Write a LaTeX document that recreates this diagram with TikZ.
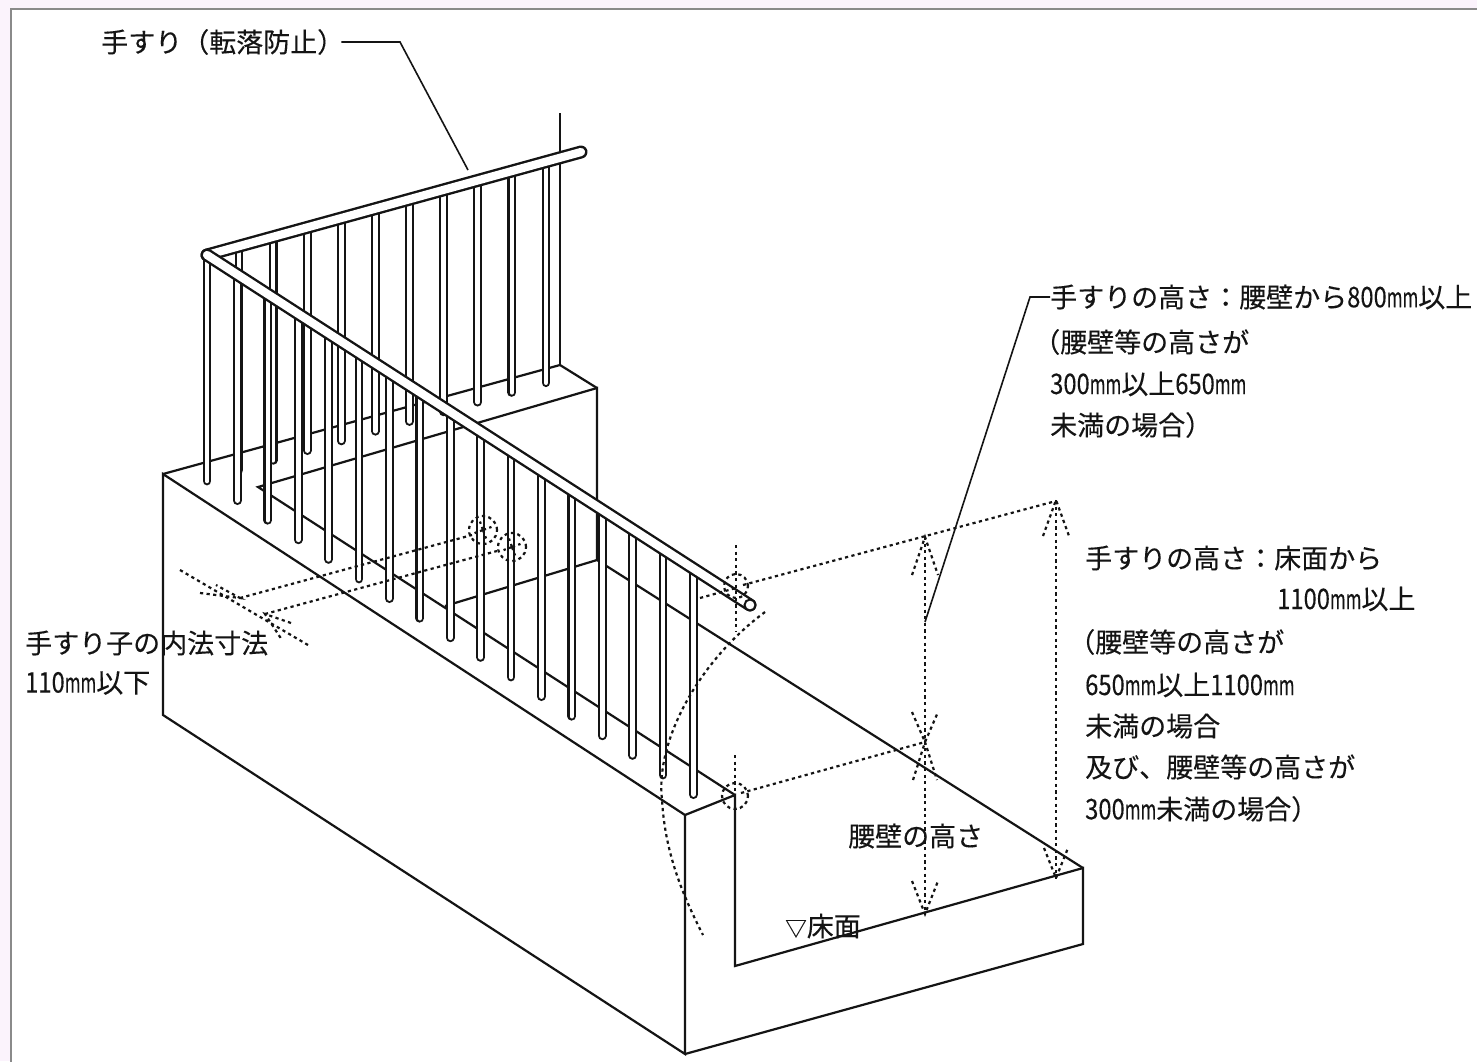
\documentclass[tikz,border=0pt]{standalone}
\usepackage{graphicx}
\usepackage{fontspec}
\setmainfont{Noto Sans CJK JP}[FakeBold=0.2]
\newcommand{\mmu}{\scalebox{.63}[1]{mm}}
\newcommand{\dg}[1]{\scalebox{.88}[1.05]{#1}}
\definecolor{pagebg}{HTML}{FBF3FC}
\definecolor{framegray}{HTML}{8A8A8A}
\definecolor{inkc}{HTML}{141414}
\tikzset{
  edgeline/.style={draw=inkc,line width=2.2pt,line join=miter},
  leaderline/.style={draw=inkc,line width=1.6pt},
  dimdot/.style={draw=inkc,line width=2.2pt,dash pattern=on 3.2pt off 3.4pt},
  railout/.style={draw=inkc,line width=13pt,line cap=round},
  railin/.style={draw=white,line width=8.2pt,line cap=round},
  balout/.style={draw=inkc,line width=8.8pt,line cap=round},
  balin/.style={draw=white,line width=4.6pt,line cap=round},
  lbl/.style={anchor=west,inner sep=0pt,text=inkc,font=\fontsize{27}{32}\selectfont}
}
\newcommand{\starmark}[2]{%
  \draw[dimdot] (#1,#2) circle (14pt);
  \foreach \a in {20,110,200,290}{\draw[dimdot] (#1,#2) -- ++(\a:9pt);}
}
\begin{document}
\begin{tikzpicture}[x=1pt,y=-1pt]
\useasboundingbox (0,0) rectangle (1477,1061);
\fill[pagebg] (0,0) rectangle (1477,1061);
\draw[framegray,line width=2.5pt,fill=white] (11,9) rectangle (1490,1075);

% wall and floor
\draw[edgeline] (163,474) -- (163,715) -- (685,1054) -- (685,815) -- cycle;
\draw[edgeline] (685,815) -- (735,795) -- (735,966) -- (1083,868) -- (1083,944) -- (685,1054);
\draw[edgeline] (1083,868) -- (597,560) -- (445,606);
\draw[edgeline] (597,560) -- (597,388) -- (258,487) -- (735,795);
\draw[edgeline] (163,474) -- (560,365) -- (597,388);
\draw[edgeline] (560,113) -- (560,365);

% back balusters
\foreach \i in {0,...,9}{
  \pgfmathsetmacro{\bx}{239+34.1*\i}
  \pgfmathsetmacro{\bt}{245-9.3*\i}
  \pgfmathsetmacro{\bb}{470-9.7*\i}
  \draw[balout] (\bx,\bt) -- (\bx,\bb);
  \draw[balin] (\bx,\bt) -- (\bx,\bb);
}
% back rail
\draw[railout] (207,255) -- (581,152);
\draw[railin] (207,255) -- (581,152);

% front balusters
\foreach \i in {0,...,16}{
  \pgfmathsetmacro{\bx}{207+30.4*\i}
  \pgfmathsetmacro{\bt}{258+19.6*\i}
  \pgfmathsetmacro{\bb}{481+19.6*\i}
  \draw[balout] (\bx,\bt) -- (\bx,\bb);
  \draw[balin] (\bx,\bt) -- (\bx,\bb);
}
% front rail
\draw[railout] (207,255) -- (750,605);
\draw[railin] (207,255) -- (750,605);
\draw[draw=inkc,line width=2pt,fill=white] (750,605) circle (5.5pt);

% dotted dimension lines: heights
\draw[dimdot] (743,585) -- (1056,501);
\draw[dimdot] (700,598) -- (736,588);
\draw[dimdot] (736,545) -- (736,632);
\draw[dimdot] (736,586) circle (12pt);
\draw[dimdot] (741,793) -- (925,742);
\draw[dimdot] (735,755) -- (735,808);
\draw[dimdot] (735,796) circle (13pt);
\draw[dimdot] (765,612) .. controls (700,660) and (655,740) .. (662,800) .. controls (665,850) and (680,890) .. (703,935);

\draw[dimdot] (925,537) -- (925,915);
\draw[dimdot] (912,575) -- (925,537) -- (938,575);
\draw[dimdot] (912,712) -- (925,742) -- (938,712);
\draw[dimdot] (913,780) -- (925,742) -- (937,780);
\draw[dimdot] (912,881) -- (925,914) -- (938,881);
\draw[dimdot] (1056,500) -- (1056,882);
\draw[dimdot] (1043,536) -- (1056,500) -- (1069,536);
\draw[dimdot] (1044,848) -- (1056,878) -- (1068,848);

% dotted dimension lines: baluster gap
\draw[dimdot] (180,570) -- (308,645);
\draw[dimdot] (240,598) -- (472,535);
\draw[dimdot] (265,614) -- (497,551);
\draw[dimdot] (200,593) -- (240,598) -- (216,585);
\draw[dimdot] (291,623) -- (265,614) -- (282,640);
\starmark{483}{530}
\starmark{512}{547}

% labels
\node[lbl] (t1) at (101,42) {手すり（転落防止）};
\node[lbl] (t2) at (1050,297) {手すりの高さ：腰壁から\dg{800}\mmu{}以上};
\node[lbl] (t3) at (1033,342) {（腰壁等の高さが};
\node[lbl] (t4) at (1050,384) {\dg{300}\mmu{}以上\dg{650}\mmu};
\node[lbl] (t5) at (1050,425) {未満の場合）};
\node[lbl] (t6) at (1085,558) {手すりの高さ：床面から};
\node[lbl] (t7) at (1277,599) {\dg{1100}\mmu{}以上};
\node[lbl] (t8) at (1068,642) {（腰壁等の高さが};
\node[lbl] (t9) at (1085,685) {\dg{650}\mmu{}以上\dg{1100}\mmu};
\node[lbl] (t10) at (1085,726) {未満の場合};
\node[lbl] (t11) at (1085,767) {及び、腰壁等の高さが};
\node[lbl] (t12) at (1085,809) {\dg{300}\mmu{}未満の場合）};
\node[lbl] (t13) at (848,836) {腰壁の高さ};
\node[lbl] (t14) at (785,926) {\scalebox{.8}{▽}床面};
\node[lbl] (t15) at (25,643) {手すり子の内法寸法};
\node[lbl] (t16) at (25,683) {\dg{110}\mmu{}以下};

% leaders
\coordinate (c1) at (400,42);
\coordinate (c2) at (468,170);
\coordinate (c3) at (1030,297);
\coordinate (c4) at (925,622);
\draw[leaderline] ([xshift=-3pt]t1.east) -- (c1) -- (c2);
\draw[leaderline] (t2.west) -- (c3) -- (c4);
\end{tikzpicture}
\end{document}
